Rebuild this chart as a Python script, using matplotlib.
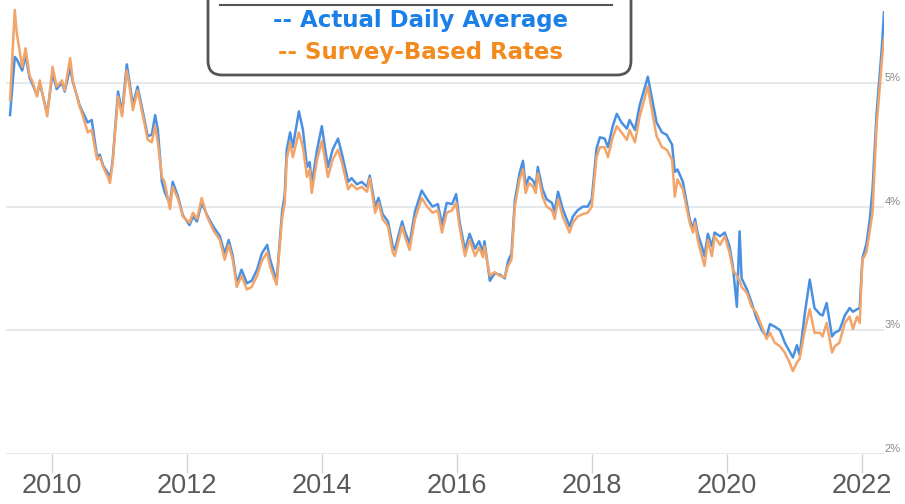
import matplotlib.pyplot as plt
from matplotlib.patches import FancyBboxPatch
from matplotlib.transforms import blended_transform_factory

# decimal years for each reading
years = [
    2009.38, 2009.45, 2009.48, 2009.56, 2009.61, 2009.67, 2009.72, 2009.78, 2009.82, 2009.93,
    2010.01, 2010.07, 2010.15, 2010.19, 2010.27, 2010.31, 2010.41, 2010.46, 2010.53, 2010.59,
    2010.67, 2010.71, 2010.76, 2010.83, 2010.86, 2010.90, 2010.98, 2011.04, 2011.11, 2011.16,
    2011.20, 2011.27, 2011.35, 2011.42, 2011.48, 2011.53, 2011.57, 2011.63, 2011.67, 2011.75,
    2011.79, 2011.87, 2011.94, 2012.04, 2012.09, 2012.15, 2012.22, 2012.30, 2012.39, 2012.49,
    2012.56, 2012.62, 2012.68, 2012.74, 2012.81, 2012.89, 2012.96, 2013.04, 2013.11, 2013.19,
    2013.23, 2013.30, 2013.33, 2013.41, 2013.45, 2013.48, 2013.53, 2013.57, 2013.66, 2013.72,
    2013.78, 2013.82, 2013.85, 2013.93, 2014.00, 2014.04, 2014.09, 2014.16, 2014.24, 2014.30,
    2014.39, 2014.44, 2014.52, 2014.59, 2014.67, 2014.71, 2014.79, 2014.84, 2014.90, 2014.98,
    2015.05, 2015.08, 2015.19, 2015.23, 2015.30, 2015.38, 2015.48, 2015.56, 2015.64, 2015.72,
    2015.78, 2015.85, 2015.93, 2015.99, 2016.04, 2016.12, 2016.19, 2016.27, 2016.33, 2016.39,
    2016.41, 2016.49, 2016.56, 2016.64, 2016.71, 2016.76, 2016.81, 2016.86, 2016.93, 2016.98,
    2017.02, 2017.07, 2017.13, 2017.17, 2017.20, 2017.27, 2017.33, 2017.41, 2017.45, 2017.50,
    2017.57, 2017.67, 2017.72, 2017.79, 2017.87, 2017.94, 2018.00, 2018.07, 2018.12, 2018.19,
    2018.24, 2018.31, 2018.37, 2018.44, 2018.52, 2018.56, 2018.64, 2018.71, 2018.79, 2018.83,
    2018.89, 2018.96, 2019.04, 2019.11, 2019.19, 2019.23, 2019.27, 2019.35, 2019.41, 2019.45,
    2019.50, 2019.53, 2019.57, 2019.63, 2019.67, 2019.72, 2019.78, 2019.82, 2019.90, 2019.97,
    2020.04, 2020.09, 2020.15, 2020.19, 2020.22, 2020.30, 2020.37, 2020.44, 2020.52, 2020.59,
    2020.64, 2020.71, 2020.79, 2020.86, 2020.93, 2020.98, 2021.04, 2021.08, 2021.16, 2021.23,
    2021.30, 2021.38, 2021.42, 2021.48, 2021.56, 2021.60, 2021.67, 2021.75, 2021.82, 2021.87,
    2021.93, 2021.97, 2022.01, 2022.07, 2022.12, 2022.16, 2022.22, 2022.30, 2022.33,
]

# weekly survey-based 30-year rate (%)
survey = [
    4.86, 5.59, 5.40, 5.13, 5.28, 5.06, 5.00, 4.89, 5.02, 4.73,
    5.13, 4.97, 5.02, 4.94, 5.20, 5.02, 4.81, 4.73, 4.60, 4.62,
    4.38, 4.40, 4.32, 4.24, 4.19, 4.35, 4.89, 4.73, 5.10, 4.94,
    4.78, 4.94, 4.73, 4.54, 4.52, 4.65, 4.52, 4.24, 4.20, 3.98,
    4.16, 4.06, 3.92, 3.87, 3.95, 3.90, 4.07, 3.92, 3.81, 3.73,
    3.57, 3.69, 3.57, 3.35, 3.44, 3.33, 3.35, 3.44, 3.56, 3.63,
    3.52, 3.41, 3.37, 3.90, 4.03, 4.38, 4.52, 4.40, 4.60, 4.48,
    4.24, 4.30, 4.11, 4.38, 4.53, 4.40, 4.24, 4.38, 4.46, 4.35,
    4.14, 4.18, 4.14, 4.16, 4.12, 4.23, 3.95, 4.03, 3.90, 3.84,
    3.63, 3.60, 3.84, 3.76, 3.65, 3.90, 4.07, 4.00, 3.95, 3.97,
    3.79, 3.95, 3.97, 4.03, 3.84, 3.60, 3.73, 3.60, 3.67, 3.59,
    3.68, 3.44, 3.47, 3.44, 3.43, 3.52, 3.57, 4.00, 4.22, 4.30,
    4.11, 4.19, 4.16, 4.11, 4.27, 4.08, 4.00, 3.97, 3.90, 4.06,
    3.92, 3.79, 3.87, 3.92, 3.94, 3.95, 4.00, 4.40, 4.48, 4.48,
    4.40, 4.56, 4.65, 4.60, 4.54, 4.62, 4.52, 4.73, 4.89, 4.97,
    4.78, 4.57, 4.48, 4.46, 4.38, 4.08, 4.22, 4.14, 3.98, 3.87,
    3.79, 3.87, 3.73, 3.60, 3.52, 3.73, 3.60, 3.76, 3.69, 3.76,
    3.63, 3.49, 3.44, 3.40, 3.35, 3.30, 3.19, 3.14, 3.03, 2.93,
    2.98, 2.90, 2.87, 2.82, 2.74, 2.67, 2.74, 2.77, 3.01, 3.17,
    2.98, 2.98, 2.95, 3.06, 2.82, 2.87, 2.90, 3.06, 3.11, 3.01,
    3.11, 3.06, 3.57, 3.63, 3.81, 3.95, 4.65, 5.19, 5.35,
]

# daily average 30-year rate (%)
daily = [
    4.74, 5.21, 5.19, 5.10, 5.22, 5.04, 4.98, 4.90, 5.00, 4.75,
    5.08, 4.95, 5.00, 4.93, 5.12, 5.01, 4.82, 4.76, 4.68, 4.70,
    4.40, 4.42, 4.33, 4.27, 4.22, 4.37, 4.93, 4.76, 5.15, 4.97,
    4.82, 4.97, 4.76, 4.57, 4.58, 4.74, 4.62, 4.20, 4.12, 4.02,
    4.20, 4.08, 3.93, 3.85, 3.92, 3.88, 4.03, 3.93, 3.84, 3.76,
    3.62, 3.73, 3.60, 3.38, 3.49, 3.38, 3.40, 3.49, 3.62, 3.69,
    3.58, 3.45, 3.40, 3.95, 4.10, 4.46, 4.60, 4.48, 4.77, 4.62,
    4.32, 4.36, 4.18, 4.46, 4.65, 4.50, 4.32, 4.46, 4.55, 4.42,
    4.20, 4.23, 4.18, 4.20, 4.16, 4.25, 4.00, 4.07, 3.94, 3.88,
    3.68, 3.65, 3.88, 3.80, 3.70, 3.96, 4.13, 4.06, 4.00, 4.02,
    3.85, 4.03, 4.02, 4.10, 3.88, 3.65, 3.78, 3.66, 3.72, 3.63,
    3.72, 3.40, 3.46, 3.45, 3.42, 3.56, 3.62, 4.05, 4.27, 4.37,
    4.17, 4.24, 4.21, 4.16, 4.32, 4.14, 4.06, 4.03, 3.96, 4.12,
    3.98, 3.84, 3.92, 3.97, 4.00, 4.00, 4.06, 4.47, 4.56, 4.55,
    4.48, 4.65, 4.75, 4.68, 4.63, 4.70, 4.62, 4.82, 4.97, 5.05,
    4.88, 4.68, 4.60, 4.58, 4.50, 4.28, 4.30, 4.20, 4.02, 3.90,
    3.82, 3.90, 3.78, 3.68, 3.60, 3.78, 3.68, 3.79, 3.76, 3.79,
    3.68, 3.52, 3.19, 3.80, 3.42, 3.33, 3.22, 3.10, 3.00, 2.95,
    3.05, 3.03, 3.00, 2.90, 2.83, 2.78, 2.88, 2.80, 3.15, 3.41,
    3.18, 3.13, 3.12, 3.22, 2.95, 2.98, 3.00, 3.12, 3.18, 3.15,
    3.17, 3.18, 3.58, 3.70, 3.90, 4.14, 4.75, 5.30, 5.57,
]

year_ticks = [2010, 2012, 2014, 2016, 2018, 2020, 2022]
rate_ticks = [2, 3, 4, 5]
legend_lines = ["-- Actual Daily Average", "-- Survey-Based Rates"]

BLUE = "#4a90e2"
ORANGE = "#f2a469"

fig = plt.figure(figsize=(9.05, 5.04), dpi=100)
ax = fig.add_axes([6 / 905, 50 / 504, 878 / 905, 454 / 504])

ax.plot(years, daily, color=BLUE, lw=1.8, solid_joinstyle="round", zorder=3)
ax.plot(years, survey, color=ORANGE, lw=1.8, solid_joinstyle="round", zorder=4)

ax.set_xlim(2009.32, 2022.33)
ax.set_ylim(2.0, 5.67)

for r in rate_ticks:
    ax.axhline(r, color="#e4e7eb", lw=1.3, zorder=1)

ax.set_xticks(year_ticks)
ax.set_xticklabels([str(y) for y in year_ticks], family="Liberation Sans",
                   fontsize=19.5, color="#5a5a5a")
ax.tick_params(axis="x", length=14, width=1, color="#cfd3d8", pad=0)
ax.set_yticks([])
for s in ax.spines.values():
    s.set_visible(False)

# percent labels sit just above the right end of each grid line
trans = blended_transform_factory(ax.transAxes, ax.transData)
for r in rate_ticks:
    ax.text(1.001, r + 0.04, f"{r}%", transform=trans, ha="left", va="center",
            fontsize=8, color="#888888", family="Liberation Sans", clip_on=False)

# legend card at the top, running off the upper edge
over = fig.add_axes([0, 0, 1, 1], facecolor="none")
over.set_xlim(0, 905)
over.set_ylim(504, 0)
over.axis("off")
card = FancyBboxPatch((208, -40), 423, 115, boxstyle="round,pad=0,rounding_size=14",
                      fc="white", ec="#555555", lw=2, zorder=5)
over.add_patch(card)
over.plot([220, 612], [5, 5], color="#555555", lw=1.5, zorder=6)
over.text(420, 21, legend_lines[0], ha="center", va="center", fontsize=16.5,
          fontweight="bold", color="#1a7fe6", zorder=6)
over.text(420, 52, legend_lines[1], ha="center", va="center", fontsize=16.5,
          fontweight="bold", color="#f28a1e", zorder=6)

fig.savefig("out.png", dpi=100)
